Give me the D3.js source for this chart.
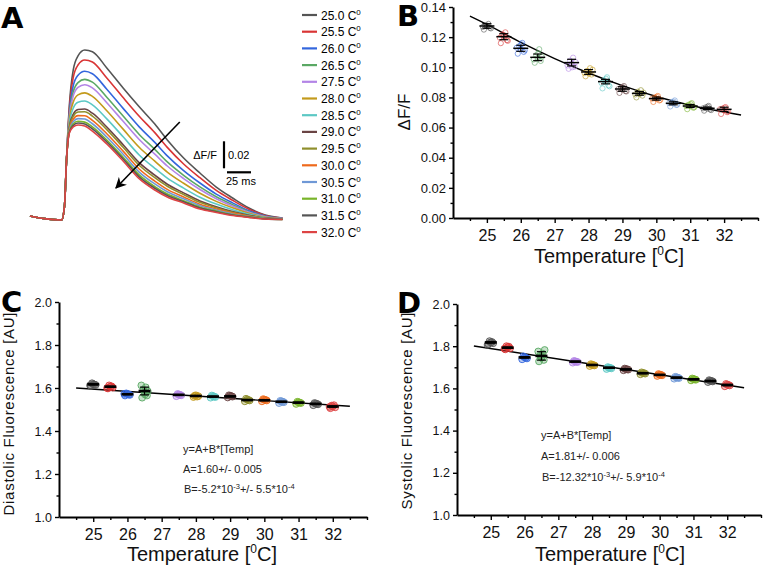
<!DOCTYPE html>
<html><head><meta charset="utf-8">
<script src="https://cdn.jsdelivr.net/npm/d3@7"></script>
<style>
body{margin:0;background:#fff;}
svg{display:block;font-family:"Liberation Sans",Arial,sans-serif;}
</style></head>
<body>
<svg id="fig" width="763" height="566"></svg>
<script>
// ---------------- DATA ----------------
const temps = [25,25.5,26,26.5,27.5,28,28.5,29,29.5,30,30.5,31,31.5,32];
const tempLabels = ["25.0","25.5","26.0","26.5","27.5","28.0","28.5","29.0","29.5","30.0","30.5","31.0","31.5","32.0"];
const colors = ["#555555","#d93535","#3366dd","#5aa864","#b384e6","#c39a1c","#5cc8c4","#6a4444","#8f8f2c","#ee6a1c","#6f98d6","#79b42a","#555555","#dd4444"];

// Panel A: transients (time in ms, dF/F)
const traceTimes = [0,15,33,36,38,41,45,50,57,65,80,97,114,130,143,160,177,194,211,228,245,263];
const tr250 = [0.003,0.001,0,0.011,0.044,0.085,0.111,0.1215,0.1259,0.1247,0.1126,0.0978,0.0837,0.0711,0.0593,0.0459,0.0348,0.0244,0.0163,0.0089,0.0037,0.0015];
const tr255 = [0.003,0.001,0,0.011,0.044,0.0823,0.1055,0.1148,0.1185,0.1170,0.1052,0.0907,0.0767,0.0647,0.0538,0.0415,0.0313,0.0219,0.0146,0.0080,0.0033,0.0014];
const tr260 = [0.003,0.001,0,0.011,0.044,0.0793,0.0993,0.1072,0.1102,0.1083,0.0969,0.0827,0.0688,0.0575,0.0475,0.0366,0.0274,0.0192,0.0127,0.0069,0.0029,0.0012];
const tr265 = [0.003,0.001,0,0.011,0.044,0.0771,0.0948,0.1018,0.1042,0.1021,0.0909,0.0770,0.0632,0.0523,0.0430,0.0331,0.0245,0.0172,0.0113,0.0062,0.0025,0.0011];
const tr275 = [0.003,0.001,0,0.011,0.044,0.0756,0.0918,0.0982,0.1002,0.0979,0.0869,0.0731,0.0594,0.0488,0.0400,0.0307,0.0226,0.0158,0.0104,0.0057,0.0023,0.0010];
const tr280 = [0.003,0.001,0,0.011,0.044,0.0734,0.0873,0.0927,0.0942,0.0916,0.0809,0.0673,0.0537,0.0436,0.0355,0.0272,0.0198,0.0138,0.0090,0.0050,0.0020,0.0009];
const tr285 = [0.003,0.001,0,0.011,0.044,0.0712,0.0828,0.0873,0.0882,0.0853,0.0749,0.0616,0.0480,0.0383,0.0310,0.0236,0.0169,0.0118,0.0076,0.0042,0.0017,0.0008];
const tr290 = [0.003,0.001,0,0.011,0.044,0.0690,0.0783,0.0818,0.0822,0.0791,0.0689,0.0558,0.0423,0.0332,0.0265,0.0201,0.0141,0.0098,0.0062,0.0035,0.0014,0.0006];
const tr295 = [0.003,0.001,0,0.011,0.044,0.0683,0.0768,0.0800,0.0802,0.0770,0.0669,0.0539,0.0404,0.0314,0.0250,0.0189,0.0131,0.0091,0.0057,0.0032,0.0013,0.0006];
const tr300 = [0.003,0.001,0,0.011,0.044,0.0672,0.0746,0.0773,0.0772,0.0738,0.0639,0.0510,0.0376,0.0288,0.0227,0.0171,0.0117,0.0081,0.0051,0.0028,0.0011,0.0005];
const tr305 = [0.003,0.001,0,0.011,0.044,0.0663,0.0728,0.0751,0.0748,0.0713,0.0615,0.0487,0.0353,0.0267,0.0209,0.0157,0.0106,0.0073,0.0045,0.0025,0.0010,0.0005];
const tr310 = [0.003,0.001,0,0.011,0.044,0.0655,0.0711,0.0731,0.0725,0.0690,0.0592,0.0465,0.0332,0.0247,0.0192,0.0143,0.0095,0.0066,0.0040,0.0023,0.0009,0.0004];
const tr315 = [0.003,0.001,0,0.011,0.044,0.0650,0.0700,0.0718,0.0711,0.0675,0.0578,0.0452,0.0318,0.0235,0.0181,0.0135,0.0088,0.0061,0.0037,0.0021,0.0008,0.0004];
const tr320 = [0.003,0.001,0,0.011,0.044,0.0644,0.0689,0.0704,0.0696,0.0659,0.0563,0.0437,0.0304,0.0222,0.0170,0.0126,0.0081,0.0056,0.0033,0.0019,0.0007,0.0004];
const traces = [tr250,tr255,tr260,tr265,tr275,tr280,tr285,tr290,tr295,tr300,tr305,tr310,tr315,tr320];

// Panel B: dF/F vs temperature
const meanB = [0.1274,0.1203,0.1126,0.1066,0.1031,0.0969,0.0905,0.0856,0.0827,0.0792,0.0761,0.0743,0.0728,0.0721];
const semB  = [0.0015,0.0020,0.0020,0.0022,0.0022,0.0016,0.0015,0.0015,0.0012,0.0010,0.0010,0.0010,0.0008,0.0014];
const rawB = [
 [0.1250,0.1262,0.1272,0.1280,0.1288,0.1268,0.1258,0.1276],
 [0.1160,0.1180,0.1200,0.1218,0.1232,0.1196,0.1176,0.1212],
 [0.1090,0.1102,0.1120,0.1140,0.1162,0.1130,0.1112,0.1152],
 [0.1030,0.1042,0.1060,0.1080,0.1120,0.1052,0.1070,0.1092],
 [0.0990,0.1004,0.1024,0.1044,0.1064,0.1012,0.1034,0.1000],
 [0.0940,0.0952,0.0964,0.0976,0.0994,0.0962,0.0984,0.0958],
 [0.0860,0.0880,0.0902,0.0914,0.0934,0.0896,0.0874,0.0924],
 [0.0830,0.0842,0.0852,0.0864,0.0876,0.0856,0.0840,0.0868],
 [0.0800,0.0812,0.0826,0.0838,0.0848,0.0820,0.0832,0.0824],
 [0.0770,0.0780,0.0790,0.0800,0.0810,0.0792,0.0784,0.0804],
 [0.0740,0.0750,0.0760,0.0770,0.0780,0.0762,0.0752,0.0772],
 [0.0722,0.0732,0.0742,0.0752,0.0762,0.0744,0.0734,0.0756],
 [0.0712,0.0720,0.0726,0.0734,0.0744,0.0728,0.0716,0.0738],
 [0.0690,0.0702,0.0714,0.0726,0.0736,0.0722,0.0706,0.0732]
];
const fitBT = [24.5,25,26,27,28,29,30,31,32,32.5];
const fitBV = [0.134,0.1285,0.1165,0.1058,0.0962,0.0878,0.0806,0.0748,0.0703,0.0683];

// Panel C: diastolic fluorescence
const meanC = [1.617,1.606,1.571,1.586,1.568,1.563,1.560,1.561,1.544,1.543,1.536,1.532,1.526,1.514];
const semC  = [0.002,0.002,0.002,0.018,0.002,0.002,0.002,0.002,0.002,0.002,0.002,0.002,0.002,0.003];
const rawC = [
 [1.610,1.614,1.618,1.622,1.616,1.612],
 [1.598,1.602,1.606,1.612,1.608,1.600],
 [1.565,1.568,1.572,1.575,1.570,1.573],
 [1.555,1.565,1.578,1.592,1.603,1.612,1.585,1.570],
 [1.562,1.566,1.570,1.572,1.568],
 [1.558,1.562,1.566,1.564,1.560],
 [1.555,1.558,1.562,1.565,1.560],
 [1.556,1.560,1.564,1.566,1.562],
 [1.538,1.542,1.546,1.550,1.544],
 [1.538,1.542,1.546,1.548,1.544],
 [1.530,1.534,1.538,1.540,1.536],
 [1.526,1.530,1.534,1.536,1.532],
 [1.520,1.524,1.528,1.530,1.526],
 [1.506,1.510,1.514,1.518,1.520,1.512]
];
const fitCT = [24.5,32.5];
const fitCV = [1.600,1.515];

// Panel D: systolic fluorescence
const meanD = [1.818,1.793,1.747,1.754,1.727,1.711,1.698,1.690,1.672,1.664,1.651,1.643,1.635,1.616];
const semD  = [0.003,0.003,0.003,0.020,0.002,0.002,0.002,0.002,0.002,0.002,0.002,0.002,0.002,0.003];
const rawD = [
 [1.810,1.814,1.818,1.824,1.820,1.806],
 [1.785,1.790,1.795,1.800,1.798,1.788],
 [1.738,1.742,1.748,1.752,1.745],
 [1.728,1.735,1.745,1.755,1.765,1.775,1.782,1.750],
 [1.722,1.725,1.728,1.730,1.726],
 [1.706,1.709,1.712,1.715,1.710],
 [1.692,1.695,1.698,1.701,1.697],
 [1.686,1.689,1.692,1.694,1.690],
 [1.667,1.670,1.673,1.676,1.672],
 [1.659,1.662,1.665,1.668,1.664],
 [1.646,1.649,1.652,1.655,1.651],
 [1.638,1.641,1.644,1.647,1.643],
 [1.630,1.633,1.636,1.639,1.635],
 [1.610,1.614,1.618,1.621,1.616]
];
const fitDT = [24.5,32.5];
const fitDV = [1.801,1.603];

const xMajor = [25,26,27,28,29,30,31,32];
const xMinorTicks = [24.5,25.5,26.5,27.5,28.5,29.5,30.5,31.5,32.5,33];

// ---------------- DRAW ----------------
const svg = d3.select("#fig");

// Panel letters
const letters = [["A",1,28],["B",397,26],["C",1,312],["D",397,313]];
svg.selectAll("text.plabel").data(letters).enter().append("text")
  .attr("class","plabel").attr("x",d=>d[1]).attr("y",d=>d[2])
  .attr("font-family","DejaVu Sans, sans-serif").attr("font-weight","bold")
  .attr("font-size",29).text(d=>d[0]);

// ----- Panel A -----
const xA = d3.scaleLinear().domain([0,263]).range([30,282.5]);
const yA = d3.scaleLinear().domain([0,0.14]).range([220,31]);
const gA = svg.append("g");
const lineA = d3.line().x((d,i)=>xA(traceTimes[i])).y(d=>yA(d)).curve(d3.curveMonotoneX);
gA.selectAll("path.tr").data(traces).enter().append("path")
  .attr("class","tr").attr("d",lineA).attr("fill","none")
  .attr("stroke",(d,i)=>colors[i]).attr("stroke-width",1.6);

// arrow
const defs = svg.append("defs");
defs.append("marker").attr("id","arr").attr("viewBox","0 0 10 10").attr("refX",9).attr("refY",5)
  .attr("markerWidth",7).attr("markerHeight",7).attr("orient","auto-start-reverse")
  .append("path").attr("d","M0,0 L10,5 L0,10 L3,5 z").attr("fill","#000");
gA.append("line").attr("x1",xA(156)).attr("y1",yA(0.0726)).attr("x2",xA(89.5)).attr("y2",yA(0.0237))
  .attr("stroke","#000").attr("stroke-width",1.6).attr("marker-end","url(#arr)");

// scale bars
gA.append("line").attr("x1",224).attr("x2",224).attr("y1",yA(0.0583)).attr("y2",yA(0.0383))
  .attr("stroke","#000").attr("stroke-width",2.2);
gA.append("line").attr("x1",227).attr("x2",227+xA(25)-xA(0)).attr("y1",172.3).attr("y2",172.3)
  .attr("stroke","#000").attr("stroke-width",2.2);
gA.append("text").attr("x",217).attr("y",159).attr("text-anchor","end").attr("font-size",11).text("\u0394F/F");
gA.append("text").attr("x",228).attr("y",159).attr("font-size",11).text("0.02");
gA.append("text").attr("x",226).attr("y",185).attr("font-size",11).text("25 ms");

// legend
const leg = gA.selectAll("g.leg").data(tempLabels).enter().append("g").attr("class","leg")
  .attr("transform",(d,i)=>`translate(302,${15+i*16.7})`);
leg.append("line").attr("x1",0).attr("x2",15).attr("y1",0).attr("y2",0)
  .attr("stroke",(d,i)=>colors[i]).attr("stroke-width",2.2);
const lt = leg.append("text").attr("x",19).attr("y",4.5).attr("font-size",12);
lt.append("tspan").text(d=>d+" C");
lt.append("tspan").attr("dy",-5).attr("font-size",8).text("0");

// ----- scatter panels -----
const jit = [-3,3,0,-1.5,1.5,-4,4,0.5];

function scatterPanel(cfg){
  const g = svg.append("g");
  const x = d3.scaleLinear().domain([24,33]).range(cfg.xr);
  const y = d3.scaleLinear().domain(cfg.yd).range(cfg.yr);
  // axes
  const gx = g.append("g").attr("transform",`translate(0,${cfg.yr[0]})`);
  gx.call(d3.axisBottom(x).tickValues(xMajor).tickFormat(d3.format("d")).tickSize(5).tickSizeOuter(0).tickPadding(7));
  gx.selectAll("text").attr("font-size",16).attr("fill","#111");
  const gxm = g.append("g").attr("transform",`translate(0,${cfg.yr[0]})`);
  gxm.call(d3.axisBottom(x).tickValues(xMinorTicks).tickFormat("").tickSize(3).tickSizeOuter(0));
  gxm.select(".domain").remove();
  const gy = g.append("g").attr("transform",`translate(${cfg.xr[0]},0)`);
  gy.call(d3.axisLeft(y).tickValues(cfg.yMajor).tickFormat(d3.format(cfg.yFmt)).tickSize(4).tickSizeOuter(0).tickPadding(3));
  gy.selectAll("text").attr("font-size",cfg.yFont).attr("fill","#111");
  const gym = g.append("g").attr("transform",`translate(${cfg.xr[0]},0)`);
  gym.call(d3.axisLeft(y).tickValues(cfg.yMinor).tickFormat("").tickSize(2.5).tickSizeOuter(0));
  gym.select(".domain").remove();
  g.selectAll(".domain").attr("stroke-width",2).attr("stroke","#000");
  g.selectAll(".tick line").attr("stroke-width",1.4).attr("stroke","#000");
  // fit line
  g.append("path").datum(cfg.fitT.map((t,i)=>[t,cfg.fitV[i]]))
    .attr("d",d3.line().x(d=>x(d[0])).y(d=>y(d[1])).curve(d3.curveMonotoneX))
    .attr("fill","none").attr("stroke","#000").attr("stroke-width",1.4);
  // raw points
  cfg.raw.forEach((vals,k)=>{
    g.selectAll(null).data(vals).enter().append("circle")
      .attr("cx",(d,i)=>x(temps[k])+jit[i%jit.length]*cfg.jitScale)
      .attr("cy",d=>y(d)).attr("r",cfg.r)
      .attr("fill",colors[k]).attr("fill-opacity",cfg.fillOp)
      .attr("stroke",colors[k]).attr("stroke-opacity",cfg.strokeOp).attr("stroke-width",cfg.sw);
  });
  // mean + sem
  const eb = g.selectAll("g.eb").data(temps).enter().append("g");
  eb.append("line").attr("x1",d=>x(d)).attr("x2",d=>x(d))
    .attr("y1",(d,i)=>y(cfg.mean[i]+cfg.sem[i])).attr("y2",(d,i)=>y(cfg.mean[i]-cfg.sem[i]))
    .attr("stroke","#000").attr("stroke-width",1.2);
  [1,-1].forEach(s=>{
    eb.append("line").attr("x1",d=>x(d)-cfg.capW).attr("x2",d=>x(d)+cfg.capW)
      .attr("y1",(d,i)=>y(cfg.mean[i]+s*cfg.sem[i])).attr("y2",(d,i)=>y(cfg.mean[i]+s*cfg.sem[i]))
      .attr("stroke","#000").attr("stroke-width",1.2);
  });
  eb.append("line").attr("x1",d=>x(d)-cfg.meanW).attr("x2",d=>x(d)+cfg.meanW)
    .attr("y1",(d,i)=>y(cfg.mean[i])).attr("y2",(d,i)=>y(cfg.mean[i]))
    .attr("stroke","#000").attr("stroke-width",cfg.meanSW);
  // axis titles
  const xt = g.append("text").attr("x",cfg.xTitleX).attr("y",cfg.xTitleY).attr("text-anchor","middle")
    .attr("font-size",20).attr("fill","#111");
  xt.append("tspan").text("Temperature [");
  xt.append("tspan").attr("dy",-8).attr("font-size",12).text("0");
  xt.append("tspan").attr("dy",8).text("C]");
  const yt = g.append("text").attr("transform",`translate(${cfg.yTitleX},${cfg.yTitleY}) rotate(-90)`)
    .attr("text-anchor","middle").attr("font-size",cfg.yTitleFont).attr("fill","#111").text(cfg.yTitle);
  if (cfg.yTitleLen) yt.attr("textLength",cfg.yTitleLen).attr("lengthAdjust","spacing");
  return {g,x,y};
}

scatterPanel({xr:[453,758], yd:[0,0.14], yr:[218,7], yMajor:d3.range(0,0.141,0.02), yMinor:d3.range(0.01,0.14,0.02),
  yFmt:".2f", yFont:13, mean:meanB, sem:semB, raw:rawB, fitT:fitBT, fitV:fitBV,
  r:2.6, fillOp:0, strokeOp:0.75, sw:0.8, jitScale:1, capW:4.5, meanW:7.5, meanSW:1.5,
  xTitleX:609, xTitleY:263, yTitle:"\u0394F/F", yTitleX:410, yTitleY:112, yTitleFont:17});

scatterPanel({xr:[59,367], yd:[1,2], yr:[517,302], yMajor:d3.range(1,2.01,0.2), yMinor:d3.range(1.1,2,0.2),
  yFmt:".1f", yFont:12.5, mean:meanC, sem:semC, raw:rawC, fitT:fitCT, fitV:fitCV,
  r:3.4, fillOp:0.35, strokeOp:0.9, sw:1, jitScale:0.8, capW:4.5, meanW:6, meanSW:2.6,
  xTitleX:202, xTitleY:561, yTitle:"Diastolic Fluorescence [AU]", yTitleX:14, yTitleY:414, yTitleFont:15, yTitleLen:203});

scatterPanel({xr:[457,761], yd:[1,2], yr:[515,304], yMajor:d3.range(1,2.01,0.2), yMinor:d3.range(1.1,2,0.2),
  yFmt:".1f", yFont:12.5, mean:meanD, sem:semD, raw:rawD, fitT:fitDT, fitV:fitDV,
  r:3.4, fillOp:0.35, strokeOp:0.9, sw:1, jitScale:0.8, capW:4.5, meanW:6, meanSW:2.6,
  xTitleX:610, xTitleY:561, yTitle:"Systolic Fluorescence [AU]", yTitleX:412, yTitleY:411, yTitleFont:15, yTitleLen:197});

// annotations
function annot(x0,ys,aText,bMain,bSup1,bMid,bSup2){
  const g = svg.append("g").attr("font-size",11).attr("fill","#222");
  g.append("text").attr("x",x0).attr("y",ys[0]).text("y=A+B*[Temp]");
  g.append("text").attr("x",x0).attr("y",ys[1]).text(aText);
  const t = g.append("text").attr("x",x0+1).attr("y",ys[2]);
  t.append("tspan").text(bMain);
  t.append("tspan").attr("dy",-4).attr("font-size",7.5).text(bSup1);
  t.append("tspan").attr("dy",4).text(bMid);
  t.append("tspan").attr("dy",-4).attr("font-size",7.5).text(bSup2);
}
annot(183,[453,473,493],"A=1.60+/- 0.005","B=-5.2*10","-3","+/- 5.5*10","-4");
annot(541,[439,460,481],"A=1.81+/- 0.006","B=-12.32*10","-3","+/- 5.9*10","-4");
</script>
</body></html>
